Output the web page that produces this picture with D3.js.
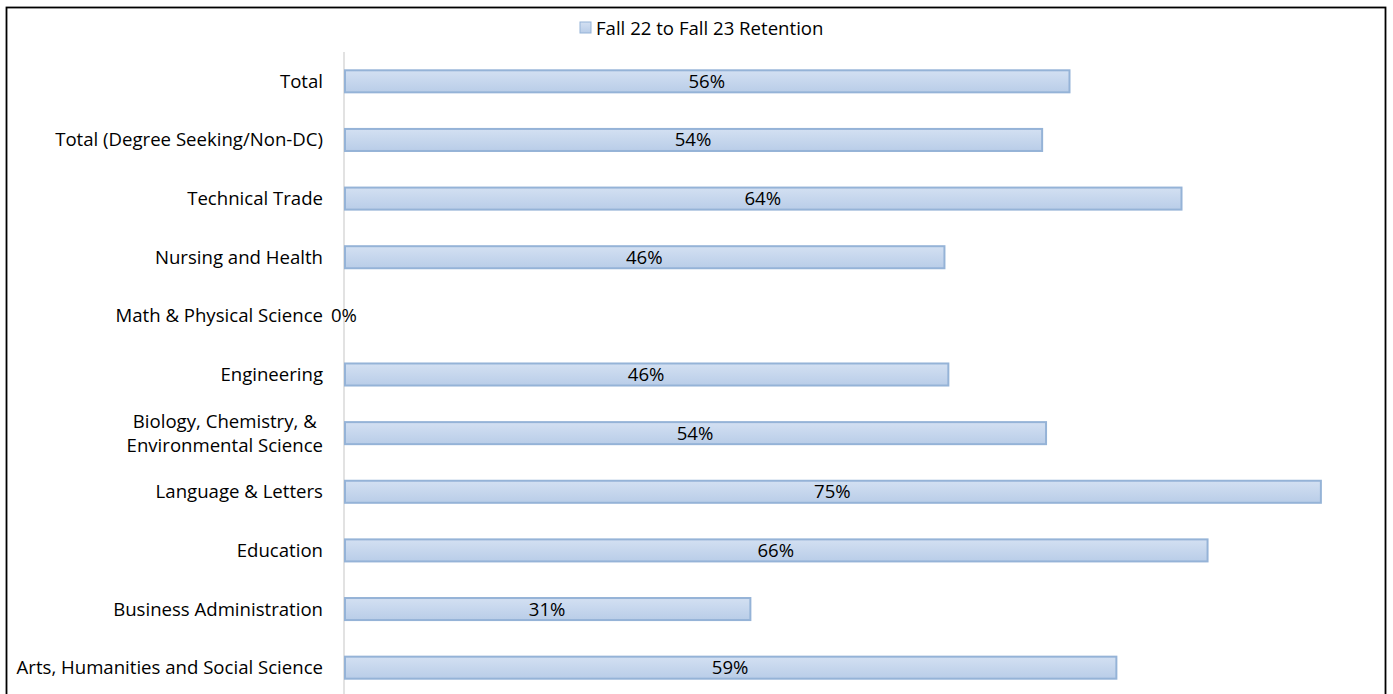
<!DOCTYPE html>
<html>
<head>
<meta charset="utf-8">
<script src="https://cdn.jsdelivr.net/npm/d3@7"></script>
<style>
  html, body { margin: 0; padding: 0; background: #fff; }
  svg { display: block; }
  text { font-family: "Open Sans", Lato, sans-serif; fill: #000; }
</style>
</head>
<body>
<svg id="chart" width="1393" height="694"></svg>
<script>
const categories = [
  "Total",
  "Total (Degree Seeking/Non-DC)",
  "Technical Trade",
  "Nursing and Health",
  "Math & Physical Science",
  "Engineering",
  "Biology, Chemistry, &\nEnvironmental Science",
  "Language & Letters",
  "Education",
  "Business Administration",
  "Arts, Humanities and Social Science"
];
const retention = [0.557, 0.536, 0.643, 0.461, 0, 0.464, 0.539, 0.750, 0.663, 0.312, 0.593];
const seriesName = "Fall 22 to Fall 23 Retention";

const W = 1393, H = 694;
const svg = d3.select("#chart");
const FONT = 18.6;

// gradient
const defs = svg.append("defs");
const grad = defs.append("linearGradient").attr("id", "barGrad")
  .attr("x1", 0).attr("y1", 0).attr("x2", 0).attr("y2", 1);
grad.append("stop").attr("offset", "0%").attr("stop-color", "#d3e0f2");
grad.append("stop").attr("offset", "100%").attr("stop-color", "#b9cde8");

// outer border
svg.append("rect").attr("x", 6.5).attr("y", 7.5).attr("width", 1379).attr("height", 700)
  .attr("fill", "none").attr("stroke", "#000").attr("stroke-width", 1.8);

const x = d3.scaleLinear().domain([0, 0.8]).range([344, 1386]);
const y = d3.scaleBand().domain(categories).range([52, 697]).paddingInner(0.59).paddingOuter(0.295);

// vertical axis line
svg.append("line").attr("x1", 344).attr("x2", 344).attr("y1", 52).attr("y2", 694)
  .attr("stroke", "#d9d9d9").attr("stroke-width", 1.5);

// bars
svg.selectAll("rect.bar").data(categories).enter().filter((d, i) => retention[i] > 0)
  .append("rect").attr("class", "bar")
  .attr("x", x(0) + 1)
  .attr("y", d => y(d) + 1)
  .attr("width", d => x(retention[categories.indexOf(d)]) - x(0) - 1)
  .attr("height", y.bandwidth() - 2)
  .attr("fill", "url(#barGrad)")
  .attr("stroke", "#95b3d7").attr("stroke-width", 2);

// value labels
svg.selectAll("text.val").data(categories).enter().append("text").attr("class", "val")
  .attr("x", d => (x(0) + x(retention[categories.indexOf(d)])) / 2)
  .attr("y", d => y(d) + y.bandwidth() / 2)
  .attr("dy", "0.35em")
  .attr("text-anchor", "middle")
  .attr("font-size", FONT)
  .text(d => d3.format(".0%")(retention[categories.indexOf(d)]));

// category labels
const labG = svg.append("g");
categories.forEach(c => {
  const lines = c.split("\n");
  const cy = y(c) + y.bandwidth() / 2;
  const lh = 24;
  const g = labG.append("g");
  const t = g.append("text").attr("font-size", FONT).attr("text-anchor", "middle");
  lines.forEach((ln, k) => {
    t.append("tspan").attr("x", 0)
      .attr("y", cy + (k - (lines.length - 1) / 2) * lh)
      .attr("dy", "0.35em").text(ln);
  });
  const bb = t.node().getBBox();
  g.attr("transform", `translate(${323 - bb.width / 2},0)`);
});

// legend
const leg = svg.append("g");
const legText = leg.append("text").attr("x", 596).attr("y", 28).attr("dy", "0.35em")
  .attr("font-size", FONT).text(seriesName);
leg.append("rect").attr("x", 580).attr("y", 22).attr("width", 11).attr("height", 11)
  .attr("fill", "url(#barGrad)").attr("stroke", "#95b3d7").attr("stroke-width", 1);
</script>
</body>
</html>
